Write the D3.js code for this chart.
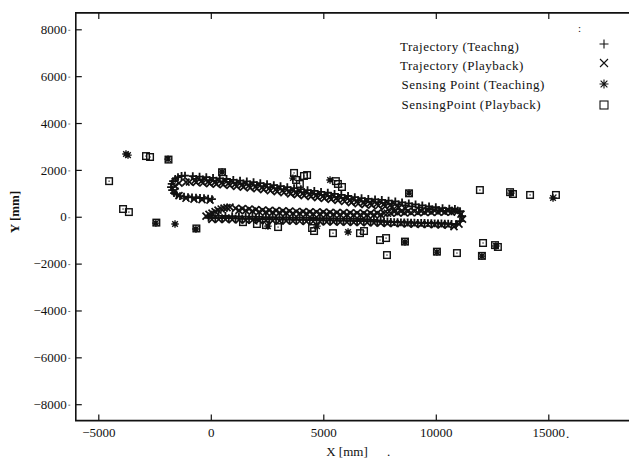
<!DOCTYPE html>
<html>
<head>
<meta charset="utf-8">
<script src="https://cdn.jsdelivr.net/npm/d3@7"></script>
<style>
  body { margin: 0; background: #fff; }
  svg { display: block; }
  text { font-family: "Liberation Serif", "Times New Roman", serif; fill: #111; }
</style>
</head>
<body>
<div id="chart"></div>
<script>
// axis ticks
var xTicks = [-5000, 0, 5000, 10000, 15000];
var yTicks = [-8000, -6000, -4000, -2000, 0, 2000, 4000, 6000, 8000];
var legendLabels = ["Trajectory (Teachng)", "Trajectory (Playback)", "Sensing Point (Teaching)", "SensingPoint (Playback)"];

// trajectory (teaching), [x mm, y mm] - two laps
var trajTeaching = [
  [53,756],[-302,798],[-658,820],[-1013,841],[-1369,884],[-1635,1012],[-1769,1268],[-1680,1524],[-1458,1695],[-1147,1759],
  [-800,1735],[-500,1712],[-200,1688],[100,1663],[400,1637],[700,1612],[1000,1578],[1300,1545],[1600,1510],[1900,1474],
  [2200,1438],[2500,1393],[2800,1350],[3100,1307],[3400,1263],[3700,1219],[4000,1180],[4300,1140],[4600,1102],[4900,1063],
  [5200,1025],[5500,980],[5800,935],[6100,885],[6400,835],[6700,792],[7000,767],[7300,742],[7600,718],[7900,690],
  [8200,657],[8500,615],[8800,572],[9100,530],[9400,487],[9700,447],[10000,410],[10300,372],[10600,350],[10850,330],
  [11075,243],[11163,30],[11075,-184],[10897,-312],
  [10700,-300],[10400,-292],[10100,-284],[9800,-275],[9500,-266],[9200,-258],[8900,-249],[8600,-240],[8300,-232],[8000,-224],
  [7700,-214],[7400,-206],[7100,-197],[6800,-189],[6500,-181],[6200,-175],[5900,-169],[5600,-163],[5300,-158],[5000,-152],
  [4700,-146],[4400,-140],[4100,-134],[3800,-129],[3500,-123],[3200,-117],[2900,-111],[2600,-106],[2300,-100],[2000,-95],
  [1700,-86],[1400,-77],[1100,-67],[800,-58],[500,-56],[200,-56],[-100,-50],
  // lap 2
  [-120,770],[-480,800],[-835,823],[-1190,855],[-1520,940],[-1720,1140],[-1740,1400],[-1580,1620],[-1300,1740],
  [-650,1613],[-350,1590],[-50,1566],[250,1540],[550,1514],[850,1485],[1150,1451],[1450,1418],[1750,1382],[2050,1346],
  [2350,1306],[2650,1262],[2950,1218],[3250,1175],[3550,1131],[3850,1090],[4150,1050],[4450,1011],[4750,972],[5050,934],
  [5350,892],[5650,848],[5950,800],[6250,750],[6550,704],[6850,670],[7150,645],[7450,620],[7750,594],[8050,563],
  [8350,526],[8650,484],[8950,441],[9250,398],[9550,357],[9850,318],[10150,281],[10450,251],[10700,230],
  [10550,-296],[10250,-288],[9950,-280],[9650,-270],[9350,-262],[9050,-253],[8750,-245],[8450,-236],[8150,-228],[7850,-200],
  [7550,-160],[7250,-130],[6950,-103],[6650,-95],[6350,-88],[6050,-82],[5750,-76],[5450,-70],[5150,-65],[4850,-59],
  [4550,-53],[4250,-47],[3950,-41],[3650,-36],[3350,-30],[3050,-24],[2750,-18],[2450,-13],[2150,-7],[1850,0],
  [1550,8],[1250,18],[950,28],[650,33],[350,34],[50,36]
];

// trajectory (playback)
var trajPlayback = [
  [-213,30],[53,158],[320,286],[587,371],[853,414],
  [1100,360],[1400,345],[1700,330],[2000,305],[2300,282],[2600,270],[2900,258],[3200,247],[3500,236],[3800,225],
  [4100,218],[4400,210],[4700,203],[5000,196],[5300,189],[5600,180],[5900,173],[6200,166],[6500,160],[6800,158],
  [7100,157],[7400,156],[7700,157],[8000,158],[8300,162],[8600,166],[8900,170],[9200,176],[9500,183],[9800,190],
  [10100,196],[10400,200],[10700,200],[10950,205],
  [11119,115],[11186,-98],[11030,-312],[10808,-418],
  [10550,-355],[10250,-348],[9950,-340],[9650,-331],[9350,-322],[9050,-314],[8750,-305],[8450,-296],[8150,-288],[7850,-280],
  [7550,-270],[7250,-262],[6950,-253],[6650,-245],[6350,-238],[6050,-232],[5750,-226],[5450,-221],[5150,-215],[4850,-209],
  [4550,-203],[4250,-197],[3950,-192],[3650,-186],[3350,-180],[3050,-174],[2750,-168],[2450,-163],[2150,-157],[1850,-150],
  [1550,-141],[1250,-132],[950,-122],[650,-116],[350,-116],[50,-112],
  [-950,1490],[-650,1465],[-350,1440],[-50,1415],[250,1390],[550,1365],[850,1335],[1150,1300],[1450,1265],[1750,1230],
  [2050,1195],[2350,1155],[2650,1110],[2950,1070],[3250,1025],[3550,980],[3850,940],[4150,900],[4450,860],[4750,820],
  [5050,785],[5350,745],[5650,700],[5950,650],[6250,605],[6550,555],[6850,520],[7150,495],[7450,470],[7750,445],
  [8050,415],[8350,380],[8650,345],
  [-36,713],[-391,735],[-747,756],[-1102,790],[-1413,900],[-1591,1097],[-1591,1311],[-1413,1439],[-1102,1481],
  // lap 2
  [-80,100],[190,222],[460,330],[720,390],
  [1250,270],[1550,258],[1850,238],[2150,214],[2450,196],[2750,184],[3050,172],[3350,162],[3650,150],[3950,142],
  [4250,134],[4550,126],[4850,120],[5150,112],[5450,105],[5750,96],[6050,90],[6350,83],[6650,79],[6950,78],
  [7250,77],[7550,90],[7850,150],[8150,220],[8450,225],[8750,230],[9050,235],[9350,242],[9650,250],[9950,256],
  [10250,262],[10550,265],[10850,268],
  [-725,1537],[-425,1514],[-125,1490],[175,1465],[475,1439],[775,1414],[1075,1380],[1375,1347],[1675,1312],[1975,1276],
  [2275,1240],[2575,1195],[2875,1152],[3175,1109],[3475,1065],[3775,1021],[4075,982],[4375,942],[4675,904],[4975,865],
  [5275,827],[5575,782],[5875,737],[6175,687],[6475,637],[6775,594],[7075,569],[7375,544],[7675,520],[7975,492],[8275,459]
];

// sensing points (teaching)
var senseTeaching = [
  [-3680,2630],[-3770,2680],[-1900,2460],[500,1910],[3650,1650],[5300,1570],[8810,1010],[13340,1010],[15210,800],
  [12050,-1680],[12670,-1250],[10050,-1510],[8630,-1080],[6100,-650],[4720,-400],[2540,-400],[-660,-525],[-1590,-310],[-2440,-270]
];

// sensing points (playback)
var sensePlayback = [
  [-2880,2590],[-2700,2550],[-1880,2440],[-4520,1520],[500,1900],[3700,1870],[4140,1740],[3790,1570],[3960,1400],[4280,1780],
  [5560,1520],[5650,1400],[5830,1270],[8810,1000],[11960,1140],[13300,1050],[13430,970],[14190,930],[15340,930],
  [12100,-1120],[12630,-1210],[12760,-1290],[12050,-1670],[10050,-1490],[10940,-1550],[8630,-1060],[7520,-995],[7790,-910],
  [7830,-1635],[6630,-700],[6810,-610],[5430,-700],[4500,-480],[4590,-610],[1430,-230],[2050,-310],[2450,-355],[2990,-440],
  [-640,-500],[-2420,-250],[-3900,330],[-3640,200]
];

var W = 629, H = 459;
var svg = d3.select("#chart").append("svg").attr("width", W).attr("height", H);

var x = d3.scaleLinear().domain([-6000, 18600]).range([75.8, 629.3]);
var y = d3.scaleLinear().domain([-8700, 8700]).range([420.6, 12.9]);

var ink = "#111";

// marker shapes
function plusPath(r) { return "M" + (-r) + ",0H" + r + "M0," + (-r) + "V" + r; }
function crossPath(r) { return "M" + (-r) + "," + (-r) + "L" + r + "," + r + "M" + (-r) + "," + r + "L" + r + "," + (-r); }
function starPath(r) { return plusPath(r) + crossPath(r * 0.75); }

// axes (ticks inward, no domain)
var gb = svg.append("g").attr("transform", "translate(0," + y(-8700) + ")")
  .call(d3.axisBottom(x).tickValues(xTicks).tickSize(-6).tickPadding(7).tickFormat(d3.format("d")));
var gt = svg.append("g").attr("transform", "translate(0," + y(8700) + ")")
  .call(d3.axisTop(x).tickValues(xTicks).tickSize(-6).tickFormat(""));
var gl = svg.append("g").attr("transform", "translate(" + x(-6000) + ",0)")
  .call(d3.axisLeft(y).tickValues(yTicks).tickSize(-6).tickPadding(9).tickFormat(d3.format("d")));

[gb, gt, gl].forEach(function(g) {
  g.select(".domain").remove();
  g.selectAll(".tick line").attr("stroke", ink).attr("stroke-width", 1.2);
  g.selectAll(".tick text").attr("fill", ink).style("font-size", "13px")
    .style("font-family", "'Liberation Serif', serif");
});

// small dots after the y labels
gl.selectAll(".tick").append("line")
  .attr("x1", -7.5).attr("x2", -5.5).attr("y1", 0.5).attr("y2", 0.5)
  .attr("stroke", "#777").attr("stroke-width", 1);

// frame (right side falls outside the picture)
svg.append("path")
  .attr("d", "M632," + y(8700) + "H" + x(-6000) + "V" + y(-8700) + "H632")
  .attr("fill", "none").attr("stroke", ink).attr("stroke-width", 1.6);

// trajectories
svg.append("g").selectAll("path").data(trajTeaching).join("path")
  .attr("transform", function(d) { return "translate(" + x(d[0]) + "," + y(d[1]) + ")"; })
  .attr("d", plusPath(3.9)).attr("stroke", ink).attr("stroke-width", 1.8).attr("fill", "none");

svg.append("g").selectAll("path").data(trajPlayback).join("path")
  .attr("transform", function(d) { return "translate(" + x(d[0]) + "," + y(d[1]) + ")"; })
  .attr("d", crossPath(3.5)).attr("stroke", ink).attr("stroke-width", 1.7).attr("fill", "none");

// sensing points
svg.append("g").selectAll("path").data(senseTeaching).join("path")
  .attr("transform", function(d) { return "translate(" + x(d[0]) + "," + y(d[1]) + ")"; })
  .attr("d", starPath(3.7)).attr("stroke", ink).attr("stroke-width", 1.4).attr("fill", "none");

var sq = svg.append("g").selectAll("g").data(sensePlayback).join("g")
  .attr("transform", function(d) { return "translate(" + x(d[0]) + "," + y(d[1]) + ")"; });
sq.append("rect").attr("x", -3.3).attr("y", -3.3).attr("width", 6.6).attr("height", 6.6)
  .attr("fill", "none").attr("stroke", ink).attr("stroke-width", 1.4);
sq.append("rect").attr("x", -0.6).attr("y", -0.6).attr("width", 1.2).attr("height", 1.2).attr("fill", ink);

// legend
var legendY = [50.5, 69.5, 89, 108.5];
var legendX = [400, 400, 401.5, 401.5];
var lg = svg.append("g");
lg.selectAll("text").data(legendLabels).join("text")
  .attr("x", function(d, i) { return legendX[i]; })
  .attr("y", function(d, i) { return legendY[i]; })
  .style("font-size", "13px").style("letter-spacing", "0.5px")
  .text(function(d) { return d; });
var symX = 604;
lg.append("path").attr("transform", "translate(" + symX + "," + (legendY[0] - 6.5) + ")")
  .attr("d", plusPath(4.5)).attr("stroke", ink).attr("stroke-width", 1.1);
lg.append("path").attr("transform", "translate(" + symX + "," + (legendY[1] - 6.5) + ")")
  .attr("d", crossPath(4)).attr("stroke", ink).attr("stroke-width", 1.1);
lg.append("path").attr("transform", "translate(" + symX + "," + (legendY[2] - 5) + ")")
  .attr("d", starPath(4.5)).attr("stroke", ink).attr("stroke-width", 1.1);
lg.append("rect").attr("x", symX - 4).attr("y", legendY[3] - 7.5).attr("width", 8).attr("height", 8)
  .attr("fill", "none").attr("stroke", ink).attr("stroke-width", 1.1);

// stray marks from the original
svg.append("text").attr("x", 578).attr("y", 32).style("font-size", "11px").text(":");
svg.append("text").attr("x", 566).attr("y", 437.5).style("font-size", "13px").text(".");
svg.append("text").attr("x", 387).attr("y", 456).style("font-size", "13px").text(".");

// axis titles
svg.append("text").attr("x", 347).attr("y", 456).attr("text-anchor", "middle")
  .style("font-size", "13px").text("X [mm]");
svg.append("text").attr("transform", "translate(19,212) rotate(-90)").attr("text-anchor", "middle")
  .style("font-size", "13px").style("font-weight", "bold").text("Y [mm]");
</script>
</body>
</html>
